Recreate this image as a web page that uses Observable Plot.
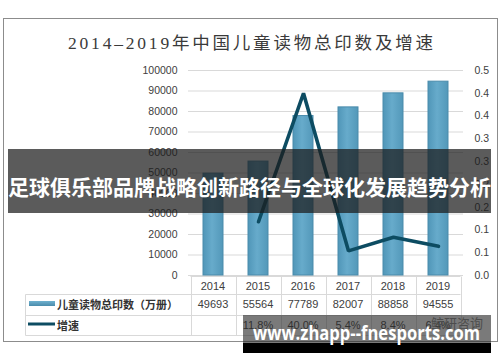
<!DOCTYPE html>
<html><head><meta charset="utf-8">
<script src="https://cdn.jsdelivr.net/npm/d3@7"></script>
<script src="https://cdn.jsdelivr.net/npm/@observablehq/plot@0.6"></script>
<style>
html,body{margin:0;padding:0;background:#fff;}
#root{position:relative;width:500px;height:362px;overflow:hidden;font-family:"Liberation Sans",Arial,sans-serif;}
#root > *{position:absolute;left:0;top:0;}
</style></head><body><div id="root"></div>
<script>
const years = ["2014","2015","2016","2017","2018","2019"];
const prints = [49693,55564,77789,82007,88858,94555];
const growth = [null,0.118,0.400,0.054,0.084,0.064];
const growthLabels = ["","11.8%","40.0%","5.4%","8.4%","6.4%"];
const leftTicks = [0,10000,20000,30000,40000,50000,60000,70000,80000,90000,100000];
const rightTicks = [0,0.05,0.1,0.15,0.2,0.25,0.3,0.35,0.4,0.45];
const rightTickLabels = ["0.0","0.1","0.1","0.2","0.2","0.3","0.3","0.4","0.4","0.5"];
const titleText = "2014–2019年中国儿童读物总印数及增速";
const seriesNames = ["儿童读物总印数（万册）","增速"];
const bannerText = "足球俱乐部品牌战略创新路径与全球化发展趋势分析";
const watermarkText = "www.zhapp--fnesports.com";
const logoText = "鲸研咨询";

const barEdge = "#4a8bab", lineColor = "#0d4c62";
const W = 500, H = 362, mL = 188, mR = 37, mT = 70, mB = H - 275;
const textColor = "#404040";
const root = document.getElementById("root");

// outer frame
const frame = document.createElement("div");
frame.style.cssText = "left:3px;top:18px;width:493px;height:322px;border:1px solid #8c8c8c;";
root.appendChild(frame);

const barData = years.map((y,i)=>({year:y, value:prints[i]}));
const lineData = years.map((y,i)=>({year:y, value:growth[i]})).filter(d=>d.value!=null);

function defsMark(){
  const g = document.createElementNS("http://www.w3.org/2000/svg","defs");
  g.innerHTML = `<linearGradient id="barGrad" x1="0" x2="1" y1="0" y2="0">
    <stop offset="0" stop-color="#5096b8"/><stop offset="0.45" stop-color="#67abcb"/><stop offset="1" stop-color="#5398b9"/></linearGradient>`;
  return g;
}

const barPlot = Plot.plot({
  width: W, height: H, marginLeft: mL, marginRight: mR, marginTop: mT, marginBottom: mB,
  style: {background: "transparent", fontFamily: '"Liberation Sans",Arial,sans-serif', fontSize: "10.5px", color: textColor},
  x: {domain: years, paddingInner: 0.56, paddingOuter: 0.28, axis: null},
  y: {domain: [0, 100000], axis: null},
  marks: [
    defsMark,
    Plot.gridY(leftTicks, {stroke: "#d9d9d9", strokeOpacity: 1}),
    Plot.axisY(leftTicks, {tickSize: 0, tickPadding: 11, tickFormat: d => String(d), label: null, fill: textColor}),
    Plot.barY(barData, {x: "year", y: "value", fill: "url(#barGrad)", stroke: barEdge, strokeWidth: 1})
  ]
});
root.appendChild(barPlot);

const linePlot = Plot.plot({
  width: W, height: H, marginLeft: mL, marginRight: mR, marginTop: mT, marginBottom: mB,
  style: {background: "transparent", fontFamily: '"Liberation Sans",Arial,sans-serif', fontSize: "10.5px", color: textColor},
  x: {type: "point", domain: years, padding: 0.5, axis: null},
  y: {domain: [0, 0.45], axis: null},
  marks: [
    Plot.axisY(rightTicks, {anchor: "right", tickSize: 0, tickPadding: 11, tickFormat: (d,i) => rightTickLabels[i], label: null, fill: textColor}),
    Plot.lineY(lineData, {x: "year", y: "value", stroke: lineColor, strokeWidth: 3.6, strokeLinejoin: "miter"})
  ]
});
root.appendChild(linePlot);

// data table under the chart, using the bar plot's x scale
const xs = barPlot.scale("x");
const step = xs.step, bw = xs.bandwidth;
const centers = years.map(y => xs.apply(y) + bw/2);
const edges = [centers[0] - step/2, ...centers.map(c => c + step/2)];
const yT = 276.5, yR1 = 294.5, yR2 = 315.5, yR3 = 335.5, tLeft = 25.5;

const svg = d3.create("svg").attr("width", W).attr("height", H)
  .style("font-family", '"Liberation Sans",Arial,sans-serif');
const defs = svg.append("defs");
defs.html(`<linearGradient id="barGrad2" x1="0" x2="0" y1="0" y2="1"><stop offset="0" stop-color="#6fb1cf"/><stop offset="1" stop-color="#4a8bab"/></linearGradient>`);

// title
svg.append("text").attr("x", 68).attr("y", 43).attr("textLength", 365).attr("lengthAdjust", "spacing")
  .attr("dominant-baseline", "central").attr("fill", "#3a3a3a").attr("font-size", 17.5)
  .attr("font-family", '"Liberation Serif","DejaVu Serif","Noto Sans CJK SC",serif').text(titleText);

const gc = "#d9d9d9";
const lines = svg.append("g").attr("stroke", gc).attr("stroke-width", 1);
lines.append("line").attr("x1", edges[0]).attr("x2", edges[6]).attr("y1", yT).attr("y2", yT);
[yR1, yR2, yR3].forEach(y => lines.append("line").attr("x1", tLeft).attr("x2", edges[6]).attr("y1", y).attr("y2", y));
lines.append("line").attr("x1", tLeft).attr("x2", tLeft).attr("y1", yR1).attr("y2", yR3);
edges.forEach(x => lines.append("line").attr("x1", Math.round(x)+0.5).attr("x2", Math.round(x)+0.5).attr("y1", yT).attr("y2", yR3));

const tt = svg.append("g").attr("fill", textColor).attr("font-size", 11).attr("text-anchor", "middle").attr("dominant-baseline", "central");
years.forEach((y,i) => {
  tt.append("text").attr("x", centers[i]).attr("y", 285.5).text(y);
  tt.append("text").attr("x", centers[i]).attr("y", 304).text(prints[i]);
  tt.append("text").attr("x", centers[i]).attr("y", 325).text(growthLabels[i]);
});
// legend swatches + names
svg.append("rect").attr("x", 29).attr("y", 301).attr("width", 26).attr("height", 5).attr("fill", "url(#barGrad2)");
svg.append("line").attr("x1", 28).attr("x2", 55).attr("y1", 324).attr("y2", 324).attr("stroke", lineColor).attr("stroke-width", 3);
const lg = svg.append("g").attr("fill", "#333").attr("font-size", 11).attr("font-weight", "bold")
  .attr("font-family", '"Noto Sans CJK SC",sans-serif').attr("dominant-baseline", "central");
lg.append("text").attr("x", 57).attr("y", 303.5).text(seriesNames[0]);
lg.append("text").attr("x", 57).attr("y", 324.5).text(seriesNames[1]);

// banner overlay
svg.append("rect").attr("x", 8).attr("y", 149).attr("width", 483).attr("height", 64).attr("fill", "rgba(28,28,28,0.72)");
svg.append("text").attr("x", 249.5).attr("y", 186).attr("text-anchor", "middle").attr("dominant-baseline", "central")
  .attr("fill", "#fff").attr("font-size", 21).attr("font-weight", "bold").attr("font-family", '"Noto Sans CJK SC",sans-serif')
  .text(bannerText);

// watermark overlay
svg.append("text").attr("x", 457).attr("y", 322).attr("text-anchor", "middle").attr("dominant-baseline", "central")
  .attr("fill", "#8a8a8a").attr("font-size", 13).attr("font-family", '"Noto Sans CJK SC",sans-serif').text(logoText);
svg.append("rect").attr("x", 243).attr("y", 315).attr("width", 248).attr("height", 28).attr("fill", "rgba(40,40,40,0.62)");
svg.append("rect").attr("x", 243).attr("y", 343).attr("width", 248).attr("height", 10).attr("fill", "#000");
svg.append("text").attr("x", 253).attr("y", 340).attr("textLength", 227).attr("lengthAdjust", "spacingAndGlyphs")
  .attr("fill", "#fff").attr("font-size", 19).attr("font-weight", "bold").attr("font-family", '"Open Sans","DejaVu Sans",sans-serif')
  .text(watermarkText);

root.appendChild(svg.node());
</script></body></html>
